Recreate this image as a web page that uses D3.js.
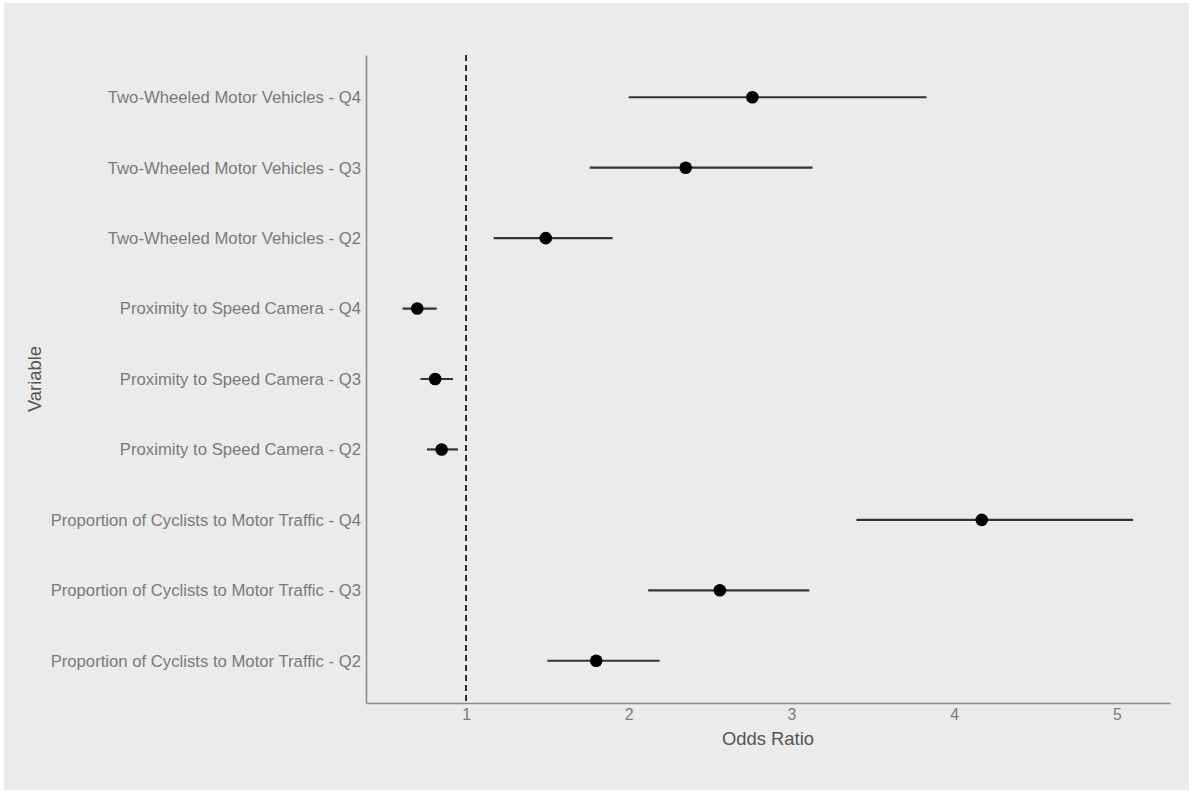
<!DOCTYPE html>
<html>
<head>
<meta charset="utf-8">
<script src="https://cdn.jsdelivr.net/npm/d3@7"></script>
<style>
  body { margin: 0; background: #fff; }
  svg { display: block; }
</style>
</head>
<body>
<div id="chart"></div>
<script>
// ── data ────────────────────────────────────────────────────────────────────
const variables = [
  "Two-Wheeled Motor Vehicles - Q4",
  "Two-Wheeled Motor Vehicles - Q3",
  "Two-Wheeled Motor Vehicles - Q2",
  "Proximity to Speed Camera - Q4",
  "Proximity to Speed Camera - Q3",
  "Proximity to Speed Camera - Q2",
  "Proportion of Cyclists to Motor Traffic - Q4",
  "Proportion of Cyclists to Motor Traffic - Q3",
  "Proportion of Cyclists to Motor Traffic - Q2"
];
const oddsRatio = [2.76, 2.35, 1.49, 0.70, 0.81, 0.85, 4.17, 2.56, 1.80];
const ciLower   = [2.00, 1.76, 1.17, 0.61, 0.72, 0.76, 3.40, 2.12, 1.50];
const ciUpper   = [3.83, 3.13, 1.90, 0.82, 0.92, 0.95, 5.10, 3.11, 2.19];
const xTicks    = [1, 2, 3, 4, 5];
const refValue  = 1;

const rows = variables.map((v, i) => ({
  v, or: oddsRatio[i], lo: ciLower[i], hi: ciUpper[i]
}));

// ── layout ──────────────────────────────────────────────────────────────────
const W = 1193, H = 793;
const plot = { left: 366, right: 1170, top: 55, bottom: 703 };
const font = "'Liberation Sans', Arial, Helvetica, sans-serif";

const svg = d3.select("#chart").append("svg")
  .attr("width", W).attr("height", H);

// panel background
svg.append("rect")
  .attr("x", 4).attr("y", 3)
  .attr("width", W - 8).attr("height", H - 6)
  .attr("fill", "#ebebeb");

// scales
const x = d3.scaleLinear()
  .domain([0.385, 5.327])
  .range([plot.left, plot.right]);

const y = d3.scalePoint()
  .domain(variables)
  .range([plot.top, plot.bottom])
  .padding(0.6);

// axes (no tick marks, grey text)
const xAxis = svg.append("g")
  .attr("transform", `translate(0,${plot.bottom})`)
  .call(d3.axisBottom(x).tickValues(xTicks).tickSize(0).tickPadding(6).tickFormat(d3.format("d")));

const yAxis = svg.append("g")
  .attr("transform", `translate(${plot.left},0)`)
  .call(d3.axisLeft(y).tickSize(0).tickPadding(5));

[xAxis, yAxis].forEach(g => {
  g.attr("font-family", font);
  g.select(".domain").attr("stroke", "#8a8a8a").attr("stroke-width", 1.6);
  g.selectAll("text")
    .attr("fill", "#7a7a7a")
    .style("font-family", font);
});
xAxis.selectAll("text").style("font-size", "15.8px");
yAxis.selectAll("text").style("font-size", "16.7px");

// reference line at OR = 1
svg.append("line")
  .attr("x1", x(refValue)).attr("x2", x(refValue))
  .attr("y1", plot.top).attr("y2", plot.bottom)
  .attr("stroke", "#000")
  .attr("stroke-width", 1.6)
  .attr("stroke-dasharray", "6,4");

// confidence intervals
svg.append("g").selectAll("line")
  .data(rows).join("line")
    .attr("x1", d => x(d.lo)).attr("x2", d => x(d.hi))
    .attr("y1", d => y(d.v)).attr("y2", d => y(d.v))
    .attr("stroke", "#333")
    .attr("stroke-width", 2.2);

// point estimates
svg.append("g").selectAll("circle")
  .data(rows).join("circle")
    .attr("cx", d => x(d.or))
    .attr("cy", d => y(d.v))
    .attr("r", 6.3)
    .attr("fill", "#000");

// axis titles
svg.append("text")
  .attr("x", (plot.left + plot.right) / 2).attr("y", 745)
  .attr("text-anchor", "middle")
  .attr("fill", "#555")
  .style("font-family", font)
  .style("font-size", "18.4px")
  .text("Odds Ratio");

svg.append("text")
  .attr("transform", `translate(41,${(plot.top + plot.bottom) / 2}) rotate(-90)`)
  .attr("text-anchor", "middle")
  .attr("fill", "#555")
  .style("font-family", font)
  .style("font-size", "18.4px")
  .text("Variable");
</script>
</body>
</html>
